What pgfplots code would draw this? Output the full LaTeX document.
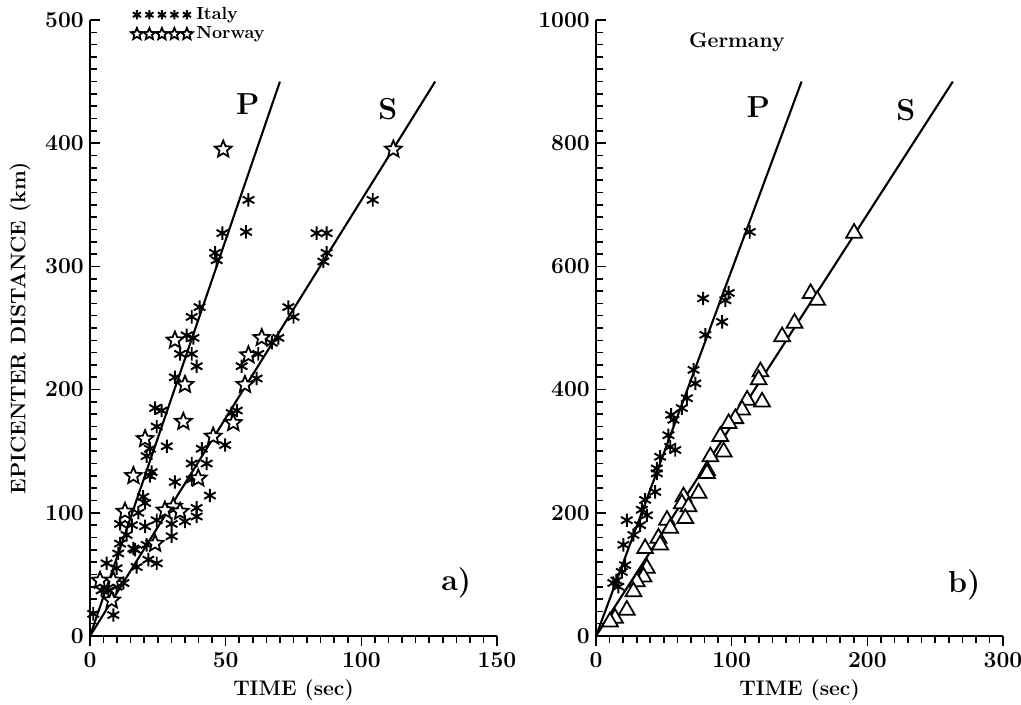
\documentclass[border=0pt]{standalone}
\usepackage{pgfplots}
\pgfplotsset{compat=1.18}
\usetikzlibrary{plotmarks}

% open five-pointed star
\pgfdeclareplotmark{ostar}{%
  \pgfpathmoveto{\pgfpointpolar{90}{\pgfplotmarksize}}%
  \pgfpathlineto{\pgfpointpolar{126}{0.45\pgfplotmarksize}}%
  \pgfpathlineto{\pgfpointpolar{162}{\pgfplotmarksize}}%
  \pgfpathlineto{\pgfpointpolar{198}{0.45\pgfplotmarksize}}%
  \pgfpathlineto{\pgfpointpolar{234}{\pgfplotmarksize}}%
  \pgfpathlineto{\pgfpointpolar{270}{0.45\pgfplotmarksize}}%
  \pgfpathlineto{\pgfpointpolar{306}{\pgfplotmarksize}}%
  \pgfpathlineto{\pgfpointpolar{342}{0.45\pgfplotmarksize}}%
  \pgfpathlineto{\pgfpointpolar{18}{\pgfplotmarksize}}%
  \pgfpathlineto{\pgfpointpolar{54}{0.45\pgfplotmarksize}}%
  \pgfpathclose
  \pgfusepathqfillstroke}

\pgfplotsset{
  seis/.style={
    scale only axis, width=8.14cm, height=12.32cm,
    axis x line=bottom, axis y line=left,
    axis line style={-, line width=1.4pt},
    xtick align=outside, ytick align=inside,
    major tick length=0.2cm, minor tick length=0.13cm,
    every tick/.style={black, line width=0.9pt},
    minor tick num=9,
    ymin=0, xmin=0,
    clip=false,
    tick label style={font=\fontsize{13}{15}\selectfont\bfseries},
    /pgf/number format/assume math mode=true,
    /pgf/number format/1000 sep={},
    xlabel={\bfseries TIME (sec)},
    xlabel style={font=\large, at={(axis description cs:0.5,-0.088)}, anchor=center},
  },
  ast/.style={only marks, mark=asterisk, mark size=3.8pt, mark options={line width=1.1pt, black}},
  nstar/.style={only marks, mark=ostar, mark size=5pt, mark options={line width=1pt, draw=black, fill=white}},
  tri/.style={only marks, mark=triangle*, mark size=5.2pt, mark options={line width=1pt, draw=black, fill=white}},
  fiveleg/.style={legend image code/.code={%
      \draw[##1, every mark/.append style={scale=0.7}] plot coordinates {(0cm,0cm) (0.25cm,0cm) (0.5cm,0cm) (0.75cm,0cm) (1.0cm,0cm)};}},
}

\begin{document}
\begin{tikzpicture}
\useasboundingbox (-1.8,-1.36) rectangle (18.62,12.72);

% ---------- a) Italy / Norway ----------
\begin{axis}[seis,
  xmax=150, ymax=500,
  xtick={0,50,100,150}, ytick={0,100,...,500},
  ylabel={\bfseries EPICENTER DISTANCE (km)},
  ylabel style={font=\large, at={(axis description cs:-0.172,0.5)}, anchor=center},
  legend style={at={(axis description cs:0.1,1.022)}, anchor=north west,
    draw=none, fill=none, font=\bfseries, row sep=2pt,
    nodes={inner ysep=0.3pt},
    legend cell align=left, inner xsep=0pt, inner ysep=0pt},
]
\addplot[ast, fiveleg] coordinates {
  (58.4,354) (48.8,327) (57.5,328) (46.1,311) (46.7,305) (40.4,267) (37.5,259)
  (35.6,244) (38.1,242) (33.2,229) (37.5,229) (39.3,219) (31.3,210) (24.0,185)
  (26.4,183) (24.6,170) (28.3,154) (22.1,152) (20.9,146) (22.7,133) (22.1,130)
  (19.6,113) (20.3,108) (17.8,100) (11.1,91) (15.4,90) (20.3,89) (13.5,82)
  (11.1,75) (16.0,71) (10.4,67) (6.1,59) (9.8,55) (12.3,43) (4.3,37) (6.8,37)
  (9.8,40) (1.2,18) (8.6,17)
  (104.2,354) (83.5,327) (87.2,327) (87.2,311) (86.0,304) (73.1,267) (75.0,259)
  (69.4,242) (67.0,238) (62.0,229) (55.9,219) (61.4,209) (54.1,183) (52.2,181)
  (49.8,155) (41.2,152) (43.0,140) (37.5,140) (31.3,125) (37.5,127) (44.2,114)
  (39.3,104) (39.3,97) (24.6,94) (35.0,93) (30.1,91) (30.1,81) (20.9,74)
  (16.6,70) (21.5,62) (24.6,59) (17.2,56)
};
\addlegendentry{Italy}
\addplot[nstar, fiveleg] coordinates {
  (49.1,395) (111.8,395) (31.3,240) (35.0,204) (34.4,174) (20.3,160) (16.0,130)
  (12.9,101) (3.7,45) (8.6,45) (8.0,29) (63.3,242) (58.4,228) (57.1,204)
  (52.8,173) (45.4,162) (39.9,128) (30.7,105) (27.6,102) (33.2,101) (24.0,75)
};
\addlegendentry{Norway}
\addplot[black, line width=1.2pt, forget plot] coordinates {(0,0) (70,450)};
\addplot[black, line width=1.2pt, forget plot] coordinates {(0,0) (127.2,450)};
\node[font=\LARGE\bfseries] at (axis cs:58.2,432) {P};
\node[font=\LARGE\bfseries] at (axis cs:109.8,428) {S};
\node[font=\LARGE\bfseries] at (axis cs:135,43) {a)};
\end{axis}

% ---------- b) Germany ----------
\begin{axis}[seis, at={(10.12cm,0cm)},
  xmax=300, ymax=1000,
  xtick={0,100,200,300}, ytick={0,200,...,1000},
]
\addplot[ast] coordinates {
  (113.3,656) (78.9,548) (97.8,557) (95.3,545) (92.9,510) (80.6,489) (71.9,432)
  (73.2,410) (67.0,386) (63.3,370) (55.4,359) (57.1,351) (53.4,326) (58.4,302)
  (54.7,307) (47.3,291) (44.8,272) (44.8,264) (43.6,234) (36.2,221) (33.8,205)
  (37.5,196) (22.7,188) (32.5,180) (27.6,164) (20.2,148) (21.4,115) (19.0,104)
  (12.8,86) (16.5,80) (15.0,90)
};
\addplot[tri] coordinates {
  (190.2,654) (158.2,556) (163.1,545) (146.3,508) (137.2,486) (121.2,429)
  (119.9,416) (122.4,380) (111.4,383) (107.7,367) (102.7,353) (97.8,345)
  (91.6,324) (94.1,299) (84.3,291) (81.8,269) (81.8,264) (75.6,232) (64.5,226)
  (63.3,215) (68.2,210) (65.8,191) (52.3,188) (54.7,175) (46.0,159) (47.3,148)
  (36.2,142) (37.5,110) (35.0,96) (30.1,88) (27.6,72) (22.7,42) (14.0,29)
  (10.3,23)
};
\addplot[black, line width=1.2pt] coordinates {(0,0) (151.5,900)};
\addplot[black, line width=1.2pt] coordinates {(0,0) (263,900)};
\node[font=\large\bfseries, anchor=west] at (axis cs:64,964) {Germany};
\node[font=\LARGE\bfseries] at (axis cs:119.7,859) {P};
\node[font=\LARGE\bfseries] at (axis cs:228.4,854) {S};
\node[font=\LARGE\bfseries] at (axis cs:271.5,83) {b)};
\end{axis}
\end{tikzpicture}
\end{document}
